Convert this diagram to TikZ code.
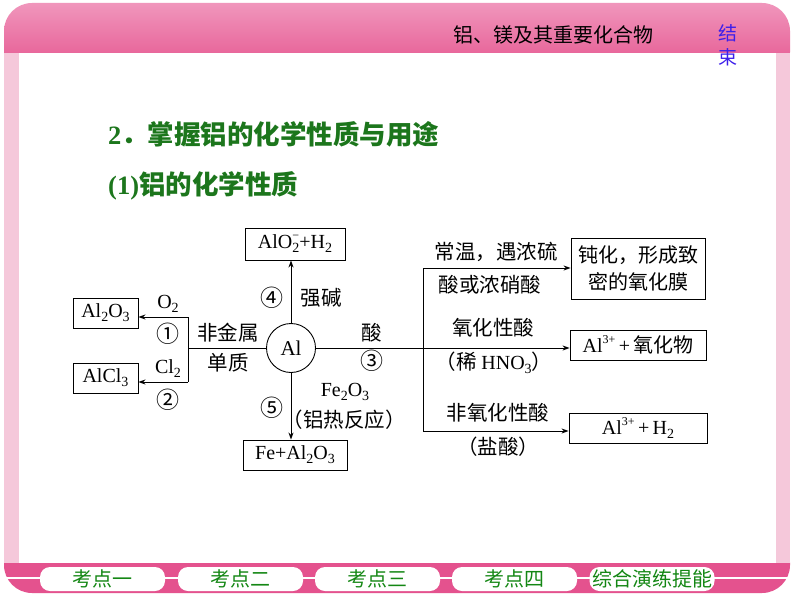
\documentclass[tikz,border=0pt]{standalone}
\usepackage{fontspec}
\setmainfont{Liberation Serif}
\newfontfamily\cjk{Noto Sans CJK SC}
\usetikzlibrary{arrows.meta}
\definecolor{hdtop}{RGB}{240,150,188}
\definecolor{hdbot}{RGB}{228,78,138}
\definecolor{band}{RGB}{228,82,142}
\definecolor{barpk}{RGB}{245,200,218}
\definecolor{ttgreen}{RGB}{28,118,28}
\definecolor{btngreen}{RGB}{20,135,20}
\definecolor{endblue}{RGB}{60,30,235}
\newcommand\chs[1]{\raisebox{-0.2em}{\fontsize{14}{14}\selectfont #1}}
\newcommand\chu[1]{\raisebox{0.45em}{\fontsize{12}{12}\selectfont #1}}
\newcommand\zh[1]{{\cjk\fontsize{20}{20}\selectfont #1}}
\begin{document}
\begin{tikzpicture}[x=1pt,y=-1pt,
  box/.style={draw, line width=0.9pt, inner sep=0pt, font=\fontsize{20}{20}\selectfont},
  arr/.style={line width=0.9pt, -{Stealth[length=7pt,width=5pt]}},
  ln/.style={line width=0.9pt},
  lab/.style={inner sep=0pt, font=\cjk\fontsize{20.5}{20.5}\selectfont},
  num/.style={inner sep=0pt, font=\cjk\fontsize{23}{23}\selectfont},
  chem/.style={inner sep=0pt, font=\fontsize{20}{20}\selectfont},
  btn/.style={fill=white, rounded corners=10pt, minimum width=125pt, minimum height=24pt, inner sep=0pt, text=btngreen, font=\cjk\fontsize{20}{20}\selectfont}]
\useasboundingbox (0,0) rectangle (794,596);
\fill[white] (0,0) rectangle (794,596);
% header
\shade[top color=hdtop, bottom color=hdbot, rounded corners=28pt] (4,3) rectangle (790,80);
% bottom band
\fill[band, rounded corners=28pt] (4,535) rectangle (790,593);
% content and side bars
\fill[white] (19,53) rectangle (776,563);
\fill[barpk] (4,53) rectangle (19,563);
\fill[barpk] (776,53) rectangle (790,563);
\draw[white, line width=1.5pt] (4,578) -- (790,578);
% header texts
\node[inner sep=0pt, font=\cjk\fontsize{20}{20}\selectfont] (ttl) at (553,35) {铝、镁及其重要化合物};
\node[inner sep=0pt, text=endblue, font=\cjk\fontsize{19}{19}\selectfont] (end1) at (728,33) {结};
\node[inner sep=0pt, text=endblue, font=\cjk\fontsize{19}{19}\selectfont] (end2) at (728,57) {束};
% buttons
\node[btn] (b1) at (102.5,579) {考点一};
\node[btn] (b2) at (240.5,579) {考点二};
\node[btn] (b3) at (377.5,579) {考点三};
\node[btn] (b4) at (514.5,579) {考点四};
\node[btn] (b5) at (652,579) {综合演练提能};
% headings
\node[anchor=west, inner sep=0pt, text=ttgreen, font=\fontsize{26.5}{26.5}\selectfont\bfseries] (h1) at (108,134) {2{\cjk ．掌握铝的化学性质与用途}};
\node[anchor=west, inner sep=0pt, text=ttgreen, font=\fontsize{26.5}{26.5}\selectfont\bfseries] (h2) at (108,186) {(1){\cjk 铝的化学性质}};
% diagram
\node[draw, circle, line width=0.9pt, minimum size=49pt, inner sep=0pt, font=\fontsize{21}{21}\selectfont] (al) at (291,348) {Al};
\node[box, minimum width=100pt, minimum height=32pt] (bxt) at (295,244) {AlO\makebox[0pt][l]{\chu{−}}\chs{2}+H\chs{2}};
\node[box, minimum width=65pt, minimum height=30pt] (bxa) at (105.5,313) {Al\chs{2}O\chs{3}};
\node[box, minimum width=65pt, minimum height=30pt] (bxc) at (105.5,378) {AlCl\chs{3}};
\node[box, minimum width=104pt, minimum height=30pt] (bxf) at (295,455) {Fe+Al\chs{2}O\chs{3}};
\node[box, minimum width=134pt, minimum height=61pt, align=center, font=\cjk\fontsize{20}{27}\selectfont] (bxp) at (638,268.5) {钝化，形成致\\密的氧化膜};
\node[box, minimum width=136pt, minimum height=30pt] (bxo) at (638,345) {Al\chu{3+}\,+\,\zh{氧化物}};
\node[box, minimum width=138pt, minimum height=30pt] (bxh) at (638,428) {Al\chu{3+}\,+\,H\chs{2}};
% connectors
\draw[arr] (al.north) -- (al.north |- bxt.south);
\draw[arr] (al.south) -- (al.south |- bxf.north);
\coordinate (jl) at (188,348);
\coordinate (ja) at (188,317);
\coordinate (jb) at (188,382);
\draw[ln] (al.west) -- (jl);
\draw[ln] (ja) -- (jb);
\draw[arr] (ja) -- (ja -| bxa.east);
\draw[arr] (jb) -- (jb -| bxc.east);
\draw[arr] (al.east) -- (al.east -| bxo.west);
\coordinate (jt) at (423,268);
\coordinate (jd) at (423,431);
\draw[ln] (jt) -- (jd);
\draw[arr] (jt) -- (jt -| bxp.west);
\draw[arr] (jd) -- (jd -| bxh.west);
% labels
\node[chem] (lo2) at (168,304) {O\chs{2}};
\node[num] (n1) at (168,334) {①};
\node[chem] (lcl) at (168,369) {Cl\chs{2}};
\node[num] (n2) at (168,400) {②};
\node[lab] (lfj) at (228,333) {非金属};
\node[lab] (ldz) at (228,363) {单质};
\node[num] (n4) at (272,298) {④};
\node[lab] (lqj) at (321,298) {强碱};
\node[lab] (lsu) at (372,333) {酸};
\node[num] (n3) at (372,361) {③};
\node[num] (n5) at (272,408) {⑤};
\node[chem] (lfe) at (345,392) {Fe\chs{2}O\chs{3}};
\node[lab] (lrf) at (344,420) {（铝热反应）};
\node[lab] (lcw) at (496,252) {常温，遇浓硫};
\node[lab] (lnx) at (490,285) {酸或浓硝酸};
\node[lab] (lyh) at (493,328) {氧化性酸};
\node[lab] (lxh) at (494,363) {（稀 {\rmfamily\fontsize{20}{20}\selectfont HNO\chs{3}}）};
\node[lab] (lfy) at (498,413) {非氧化性酸};
\node[lab] (lys) at (498,447) {（盐酸）};
\end{tikzpicture}
\end{document}
